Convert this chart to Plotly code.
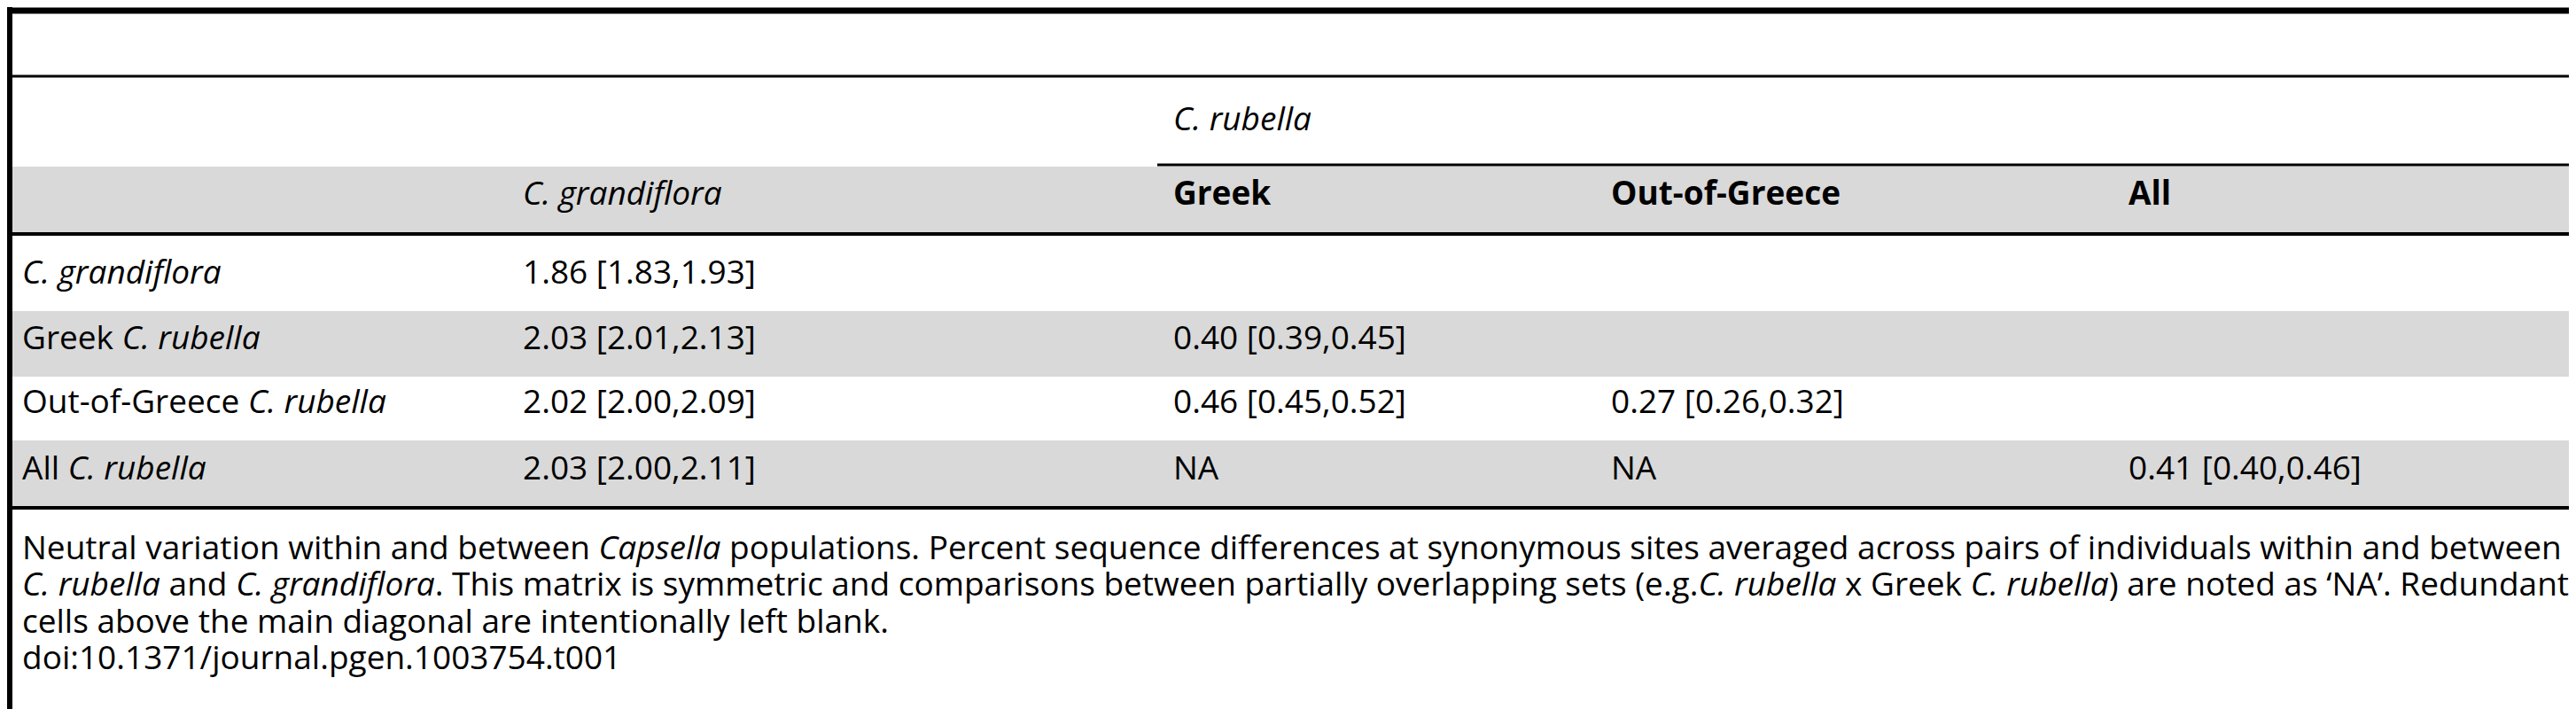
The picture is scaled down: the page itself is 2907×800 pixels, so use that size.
import plotly.graph_objects as go

W, H = 2907, 800
FONT = "Open Sans"
FS = 37

group_label = "<i>C. rubella</i>"
col_labels = ["<i>C. grandiflora</i>", "<b>Greek</b>", "<b>Out-of-Greece</b>", "<b>All</b>"]
row_labels = ["<i>C. grandiflora</i>", "Greek <i>C. rubella</i>",
              "Out-of-Greece <i>C. rubella</i>", "All <i>C. rubella</i>"]
cells = [
    ["1.86 [1.83,1.93]", "", "", ""],
    ["2.03 [2.01,2.13]", "0.40 [0.39,0.45]", "", ""],
    ["2.02 [2.00,2.09]", "0.46 [0.45,0.52]", "0.27 [0.26,0.32]", ""],
    ["2.03 [2.00,2.11]", "NA", "NA", "0.41 [0.40,0.46]"],
]
caption = [
    "Neutral variation within and between <i>Capsella</i> populations. Percent sequence differences at synonymous sites averaged across pairs of individuals within and between",
    "<i>C. rubella</i> and <i>C. grandiflora</i>. This matrix is symmetric and comparisons between partially overlapping sets (e.g.<i>C. rubella</i> x Greek <i>C. rubella</i>) are noted as \u2018NA\u2019. Redundant",
    "cells above the main diagonal are intentionally left blank.",
    "doi:10.1371/journal.pgen.1003754.t001",
]

col_x = [580, 1314, 1808, 2392]
label_x = 15
row_y = [297, 371, 443, 518]
row_bands = [(256, 343), (343, 417), (417, 489), (489, 564)]
cap_y = [608, 649, 691, 732]
GRAY = "#d9d9d9"

fig = go.Figure()
shapes = []
# header band
shapes.append(dict(type="rect", x0=6, x1=W, y0=180, y1=255, fillcolor=GRAY, line_width=0, layer="below"))
for i, (a, b) in enumerate(row_bands):
    if i % 2 == 1:
        shapes.append(dict(type="rect", x0=6, x1=W, y0=a, y1=b, fillcolor=GRAY, line_width=0, layer="below"))
# rules
shapes.append(dict(type="line", x0=0, x1=W, y0=4, y1=4, line=dict(color="black", width=7)))
shapes.append(dict(type="line", x0=6, x1=W, y0=78, y1=78, line=dict(color="black", width=3)))
shapes.append(dict(type="line", x0=1298, x1=W, y0=178, y1=178, line=dict(color="black", width=3)))
shapes.append(dict(type="line", x0=6, x1=W, y0=256, y1=256, line=dict(color="black", width=4)))
shapes.append(dict(type="line", x0=6, x1=W, y0=565, y1=565, line=dict(color="black", width=4)))
shapes.append(dict(type="line", x0=3, x1=3, y0=0, y1=H, line=dict(color="black", width=6)))

ann = []
def txt(x, y, s):
    ann.append(dict(x=x, y=y, text=s, showarrow=False, xanchor="left", yanchor="middle",
                    font=dict(family=FONT, size=FS, color="black")))

txt(col_x[1], 124, group_label)
for x, s in zip(col_x, col_labels):
    txt(x, 208, s)
for r, (lab, y) in enumerate(zip(row_labels, row_y)):
    txt(label_x, y, lab)
    for c, v in enumerate(cells[r]):
        if v:
            txt(col_x[c], y, v)
for y, s in zip(cap_y, caption):
    txt(label_x, y, s)

fig.update_layout(
    width=W, height=H, margin=dict(l=0, r=0, t=0, b=0),
    paper_bgcolor="white", plot_bgcolor="white", showlegend=False,
    shapes=shapes, annotations=ann,
    xaxis=dict(range=[0, W], visible=False, fixedrange=True),
    yaxis=dict(range=[H, 0], visible=False, fixedrange=True),
)
fig.write_html("out.html")
